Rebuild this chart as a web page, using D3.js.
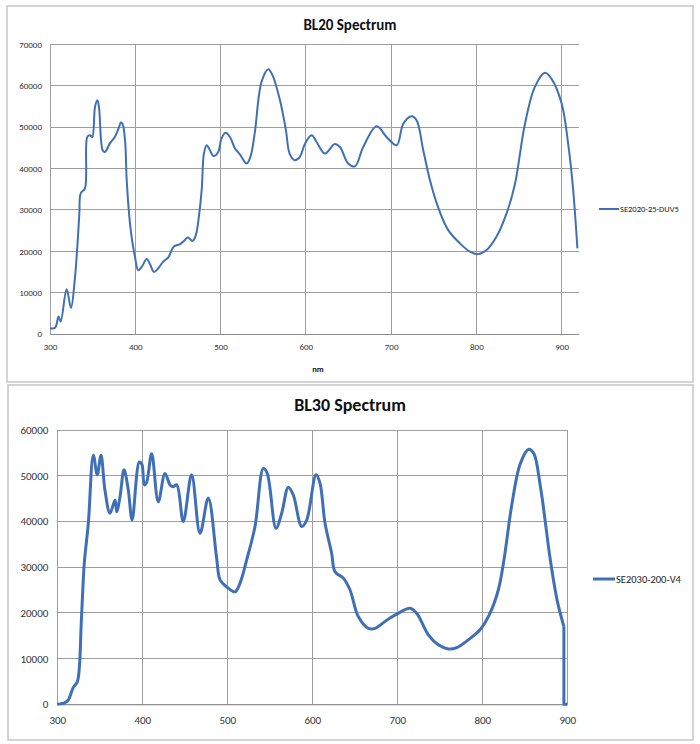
<!DOCTYPE html>
<html><head><meta charset="utf-8">
<script src="https://cdn.jsdelivr.net/npm/d3@7"></script>
<style>
body{margin:0;background:#fff;}
svg{display:block;font-family:Carlito,Lato,"Liberation Sans",sans-serif;}
</style></head>
<body>
<svg id="chart" width="700" height="744"></svg>
<script>
// ---- Data ----
const bl20Title = "BL20 Spectrum";
const bl20Series = "SE2020-25-DUV5";
const bl20XTicks = [300,400,500,600,700,800,900];
const bl20YTicks = [0,10000,20000,30000,40000,50000,60000,70000];
const bl20Nm = [300,306,310,312.5,319.5,324.6,329,332,334.4,336,341,343.7,347,349.6,352.8,355.5,357.4,361.8,364.5,370,376,381,383,385,388,390,393.8,396.5,399.6,403.5,407.5,413.4,417,422,427,432.8,438.7,445,452.4,457,461.4,467.3,471,475,478,480.5,483.7,487.6,491.5,497.3,501,506,511,517,522.7,530.6,535,540,548,556,561,569.7,576.7,581,587,593,599,606.8,612.6,622.4,634,640,649.7,657.6,667.3,683,694.7,706.5,714.3,724,730,737.7,745.5,755,767,780.7,792.4,802,812,823.5,835.3,845,857,868.6,880.4,888,900,907.6,913,918.5];
const bl20Val = [1400,1500,4200,3000,10800,6300,13000,21000,29000,34000,35200,47600,48000,47600,54900,56500,54900,44400,44000,46000,47600,50000,51100,50800,46800,37000,26700,22300,18700,15400,16200,18100,17000,15000,15900,17500,18500,21100,21700,22500,23300,22500,23900,29100,35200,43600,45600,44400,43000,44000,47200,48600,47600,44800,43400,41200,42800,48400,60900,64000,62500,56500,49200,43600,42000,42800,46000,48000,46400,43600,45900,45200,41200,40500,45200,50200,47600,45600,50800,52600,51600,44400,37200,30700,25100,21900,19900,19300,20300,23500,29100,36000,50800,59700,63100,61700,55700,46000,36000,20700];

const bl30Title = "BL30 Spectrum";
const bl30Series = "SE2030-200-V4";
const bl30XTicks = [300,400,500,600,700,800,900];
const bl30YTicks = [0,10000,20000,30000,40000,50000,60000];
const bl30Nm = [300,309,313,318.8,323.5,326,328,329.8,331.8,336.5,342.4,347,351.4,356,362,367.9,369.9,373.8,378.5,383.5,388,396.5,399.5,402.4,405,411,418.8,426.7,432.6,436,440.5,448.2,458,467.9,477.6,487.5,491.5,499.3,509,515,522.8,532.6,542.4,547,557.3,564,571.8,577.6,587.5,593.4,604.4,609,615,622.8,626.7,636.5,644.4,654.1,666,673.8,687.5,701,715,722.8,736.5,748.3,760,770,783.5,797.3,809,818.8,825.5,835,844.8,854.6,860.5,868.4,880,888,896];
const bl30Val = [0,350,940,3700,4900,8200,17000,24300,31000,39600,54500,50200,54500,46900,41800,44700,42100,45400,51300,46900,40300,53000,52500,48000,48500,54800,44300,50500,48000,47600,48000,40000,50200,37400,45100,31900,27200,25700,24600,26500,31600,38900,51600,50500,38500,41800,47500,45800,38900,40300,50200,48400,39600,33000,29000,27600,25000,19200,16600,16600,18400,19900,21000,19900,15200,13000,12100,12400,14100,16300,19900,25000,31600,44000,52700,55800,54900,47600,31600,22800,17000];
// cut-off tail of BL30 (drawn with straight segments)
const bl30TailNm = [896,896,900];
const bl30TailVal = [17000,0,0];

const lineColor = "#3F70B7";
const svg = d3.select("#chart");

function drawChart(cfg){
  const g = svg.append("g");
  g.append("rect").attr("x",cfg.frame[0]).attr("y",cfg.frame[1])
   .attr("width",cfg.frame[2]).attr("height",cfg.frame[3])
   .attr("fill","#fff").attr("stroke","#c6c6c6").attr("stroke-width",1.5);
  const x = d3.scaleLinear().domain(cfg.xDomain).range([cfg.plot.l, cfg.plot.r]);
  const y = d3.scaleLinear().domain(cfg.yDomain).range([cfg.plot.b, cfg.plot.t]);
  const grid = g.append("g");
  cfg.yTicks.forEach(v=>{
    grid.append("line").attr("x1",cfg.plot.l).attr("x2",cfg.plot.r)
      .attr("y1",y(v)).attr("y2",y(v)).attr("stroke","#9e9e9e").attr("stroke-width",1)
      .attr("shape-rendering","crispEdges");
  });
  cfg.xTicks.forEach(v=>{
    if (x(v) > cfg.plot.r + 0.5) return;
    grid.append("line").attr("x1",x(v)).attr("x2",x(v))
      .attr("y1",cfg.plot.t).attr("y2",cfg.plot.b).attr("stroke","#9e9e9e").attr("stroke-width",1)
      .attr("shape-rendering","crispEdges");
  });
  const xAxis = d3.axisBottom(x).tickValues(cfg.xTicks).tickSize(0).tickPadding(cfg.xPad).tickFormat(d3.format("d"));
  const yAxis = d3.axisLeft(y).tickValues(cfg.yTicks).tickSize(0).tickPadding(cfg.yPad).tickFormat(d3.format("d"));
  const xa = g.append("g").attr("transform",`translate(0,${cfg.plot.b})`).call(xAxis);
  const ya = g.append("g").attr("transform",`translate(${cfg.plot.l},0)`).call(yAxis);
  [xa,ya].forEach(a=>{
    a.select(".domain").attr("stroke","#8c8c8c").attr("stroke-width",1);
    a.selectAll("text").attr("font-size",cfg.tickFont).attr("fill","#333")
      .attr("font-family","Carlito,Lato,'Liberation Sans',sans-serif");
  });
  ya.select(".domain").remove();
  const data = cfg.nm.map((n,i)=>[n,cfg.val[i]]);
  const line = d3.line().x(d=>x(d[0])).y(d=>y(d[1])).curve(d3.curveCatmullRom.alpha(0.5));
  g.append("path").datum(data).attr("d",line).attr("fill","none")
    .attr("stroke",lineColor).attr("stroke-width",cfg.lw).attr("stroke-linejoin","round");
  if (cfg.tailNm){
    const tail = cfg.tailNm.map((n,i)=>[n,cfg.tailVal[i]]);
    const lin = d3.line().x(d=>x(d[0])).y(d=>y(d[1]));
    g.append("path").datum(tail).attr("d",lin).attr("fill","none")
      .attr("stroke",lineColor).attr("stroke-width",cfg.lw).attr("stroke-linejoin","round");
  }
  g.append("text").attr("x",350).attr("y",cfg.titleY).attr("text-anchor","middle")
    .attr("font-weight","bold").attr("font-size",cfg.titleFont).attr("fill","#111").text(cfg.title);
  if (cfg.xLabel){
    g.append("text").attr("x",cfg.xLabel[1]).attr("y",cfg.xLabel[2]).attr("text-anchor","middle")
      .attr("font-weight","bold").attr("font-size",8.5).attr("fill","#111").text(cfg.xLabel[0]);
  }
  const L = cfg.legend;
  g.append("line").attr("x1",L.x).attr("x2",L.x+L.w).attr("y1",L.y).attr("y2",L.y)
    .attr("stroke",lineColor).attr("stroke-width",cfg.lw);
  g.append("text").attr("x",L.x+L.w+1).attr("y",L.y).attr("dy","0.35em")
    .attr("font-size",L.font).attr("fill","#222").text(cfg.series);
}

drawChart({
  frame:[7,6,686,376],
  plot:{l:50,r:578.7,t:44.3,b:334},
  xDomain:[300,920], yDomain:[0,70000],
  xTicks:bl20XTicks, yTicks:bl20YTicks,
  nm:bl20Nm, val:bl20Val,
  xPad:10, yPad:8, tickFont:9,
  lw:2,
  title:bl20Title, titleY:30, titleFont:15,
  xLabel:["nm",318,372],
  series:bl20Series,
  legend:{x:599,w:20,y:209,font:8.5}
});

drawChart({
  frame:[8,385,685,355],
  plot:{l:57.3,r:567.3,t:430,b:704.3},
  xDomain:[300,900], yDomain:[0,60000],
  xTicks:bl30XTicks, yTicks:bl30YTicks,
  nm:bl30Nm, val:bl30Val,
  tailNm:bl30TailNm, tailVal:bl30TailVal,
  xPad:12, yPad:9, tickFont:11,
  lw:3,
  title:bl30Title, titleY:411, titleFont:18,
  xLabel:null,
  series:bl30Series,
  legend:{x:593,w:22,y:579,font:10.5}
});
</script>
</body></html>
